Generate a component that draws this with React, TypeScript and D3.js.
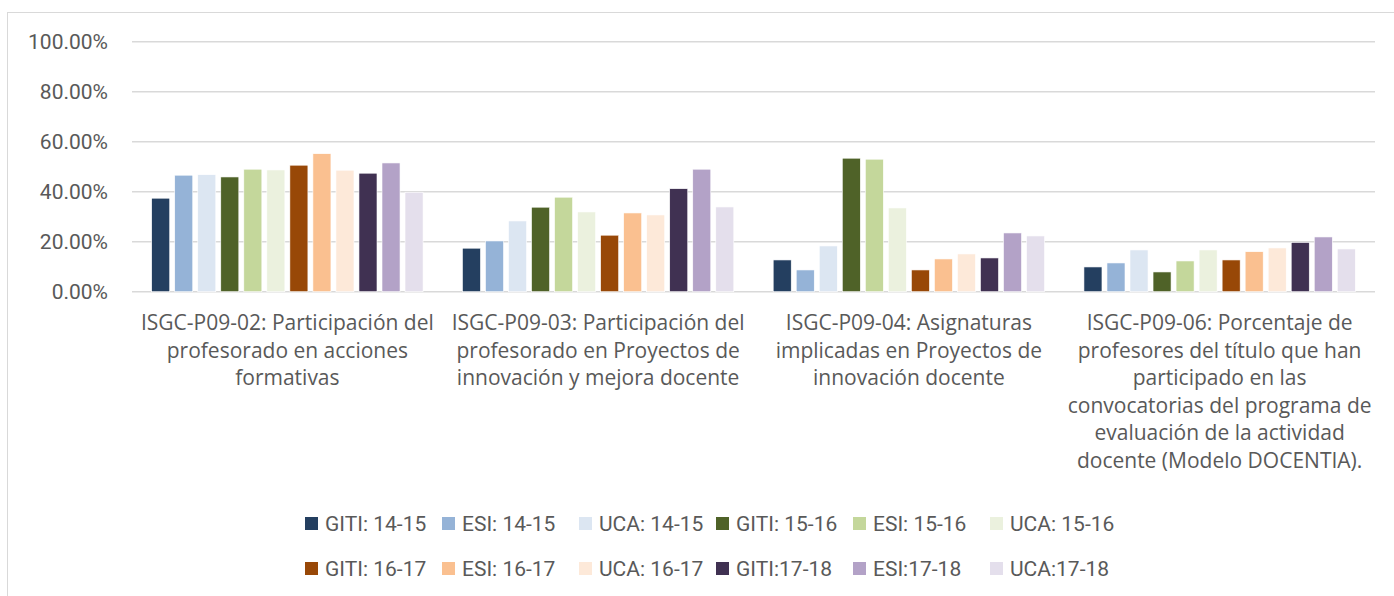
import React from 'react';
import * as d3 from 'd3';

const categoryLines = [
  ['ISGC-P09-02: Participación del', 'profesorado en acciones', 'formativas'],
  ['ISGC-P09-03: Participación del', 'profesorado en Proyectos de', 'innovación y mejora docente'],
  ['ISGC-P09-04: Asignaturas', 'implicadas en Proyectos de', 'innovación docente'],
  [
    'ISGC-P09-06: Porcentaje de',
    'profesores del título que han',
    'participado en las',
    'convocatorias del programa de',
    'evaluación de la actividad',
    'docente (Modelo DOCENTIA).',
  ],
];

const seriesNames = [
  'GITI: 14-15', 'ESI: 14-15', 'UCA: 14-15',
  'GITI: 15-16', 'ESI: 15-16', 'UCA: 15-16',
  'GITI: 16-17', 'ESI: 16-17', 'UCA: 16-17',
  'GITI:17-18', 'ESI:17-18', 'UCA:17-18',
];

const seriesColors = [
  '#243F60', '#95B3D7', '#DCE6F2',
  '#4F6228', '#C4D79B', '#EBF1DE',
  '#984807', '#FAC090', '#FDE9D9',
  '#403152', '#B3A2C7', '#E4DFEC',
];

// one row per category, one value per series (fraction)
const p0902 = [0.374, 0.466, 0.468, 0.459, 0.490, 0.487, 0.506, 0.552, 0.486, 0.474, 0.515, 0.398];
const p0903 = [0.174, 0.203, 0.283, 0.338, 0.378, 0.319, 0.226, 0.315, 0.307, 0.412, 0.490, 0.339];
const p0904 = [0.127, 0.087, 0.183, 0.534, 0.530, 0.335, 0.087, 0.131, 0.151, 0.135, 0.235, 0.223];
const p0906 = [0.099, 0.115, 0.167, 0.079, 0.123, 0.167, 0.127, 0.160, 0.175, 0.197, 0.219, 0.171];
const groupValues = [p0902, p0903, p0904, p0906];

const yTicks = [0, 0.2, 0.4, 0.6, 0.8, 1];

const W = 1394;
const H = 596;
const plot = { left: 132, right: 1375, top: 41.7, bottom: 291.7 };
const font = 'Roboto, "Liberation Sans", sans-serif';
const catFont = '"Open Sans", Roboto, sans-serif';
const textColor = '#595959';
const gridColor = '#D9D9D9';

export default function App() {
  const x0 = d3.scaleBand<number>()
    .domain(d3.range(categoryLines.length))
    .range([plot.left, plot.right])
    .padding(0);

  const x1 = d3.scaleBand<number>()
    .domain(d3.range(seriesNames.length))
    .range([0, x0.bandwidth()])
    .paddingInner(0.217)
    .paddingOuter(0.855);

  const y = d3.scaleLinear().domain([0, 1]).range([plot.bottom, plot.top]);

  const fmt = (v: number) => d3.format('.2f')(v * 100) + '%';

  return (
    <svg
      width={W}
      height={H}
      style={{ position: 'absolute', left: 0, top: 0, display: 'block', background: '#fff' }}
    >
      {/* chart frame */}
      <rect x={7.5} y={12.5} width={W + 20} height={H + 20} fill="#fff" stroke={gridColor} strokeWidth={1} />

      {/* gridlines + y labels */}
      {yTicks.map(t => (
        <g key={t}>
          <line x1={plot.left} x2={plot.right} y1={y(t)} y2={y(t)} stroke={gridColor} strokeWidth={1.6} />
          <text
            x={108}
            y={y(t)}
            dy="0.36em"
            textAnchor="end"
            fontFamily={font}
            fontSize={21}
            fill={textColor}
          >
            {fmt(t)}
          </text>
        </g>
      ))}

      {/* bars */}
      {groupValues.map((vals, gi) => (
        <g key={gi} transform={`translate(${x0(gi)},0)`}>
          {vals.map((v, si) => (
            <rect
              key={si}
              x={x1(si)}
              y={y(v)}
              width={x1.bandwidth()}
              height={y(0) - y(v)}
              fill={seriesColors[si]}
              stroke="#fff"
              strokeWidth={0.6}
            />
          ))}
        </g>
      ))}

      {/* category labels */}
      {categoryLines.map((lines, gi) => (
        <text
          key={gi}
          x={(x0(gi) ?? 0) + x0.bandwidth() / 2}
          y={330}
          textAnchor="middle"
          fontFamily={catFont}
          fontSize={21}
          fill={textColor}
        >
          {lines.map((ln, li) => (
            <tspan key={li} x={(x0(gi) ?? 0) + x0.bandwidth() / 2} dy={li === 0 ? 0 : 27.5}>
              {ln}
            </tspan>
          ))}
        </text>
      ))}

      {/* legend */}
      {seriesNames.map((name, i) => {
        const col = i % 6;
        const row = Math.floor(i / 6);
        const lx = 305 + col * 137;
        const ly = 523.5 + row * 45;
        return (
          <g key={name}>
            <rect x={lx} y={ly - 6.5} width={13} height={13} fill={seriesColors[i]} />
            <text
              x={lx + 20}
              y={ly}
              dy="0.36em"
              fontFamily={font}
              fontSize={21}
              fill={textColor}
            >
              {name}
            </text>
          </g>
        );
      })}
    </svg>
  );
}
